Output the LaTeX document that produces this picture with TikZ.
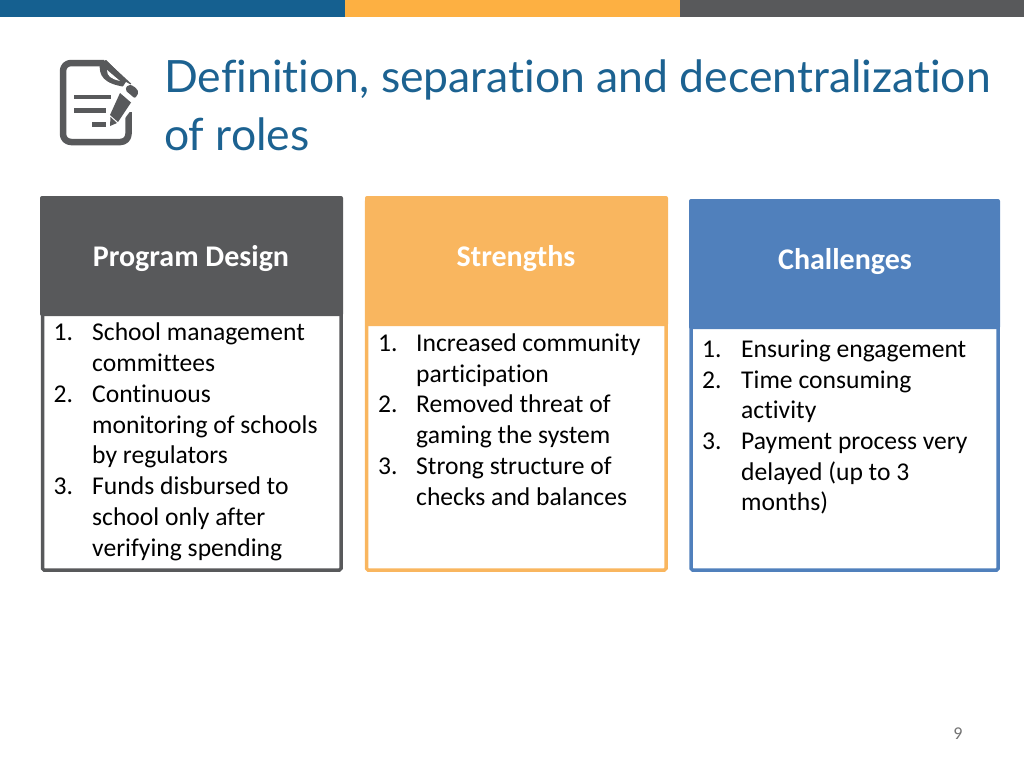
\documentclass[tikz,border=0pt]{standalone}
\usepackage{fontspec}
\setmainfont{Carlito}[Ligatures=NoCommon]
\newfontfamily\titlefont{Lato}[Ligatures=NoCommon]
\definecolor{barblue}{HTML}{156090}
\definecolor{barorange}{HTML}{FDB042}
\definecolor{bargrey}{HTML}{58595B}
\definecolor{cardgrey}{HTML}{58595B}
\definecolor{cardorange}{HTML}{F9B65F}
\definecolor{cardblue}{HTML}{5080BC}
\definecolor{titleblue}{HTML}{1C6291}
\definecolor{icongrey}{HTML}{58595B}
\tikzset{
  bar/.style={fill=#1,draw=none},
  cardbox/.style={draw=#1,line width=3.5pt,fill=white,rounded corners=1.5pt},
  headbox/.style={fill=#1,draw=none,rounded corners=2pt},
  headtext/.style={text=white,font=\fontsize{30}{30}\selectfont\bfseries,anchor=base,yshift=-0.6pt},
  bodytext/.style={text=black,font=\fontsize{25.6}{25.6}\selectfont,anchor=base west,inner sep=0pt,yshift=-0.7pt},
  titletext/.style={text=titleblue,font=\titlefont\fontsize{44.5}{44.5}\selectfont,anchor=base west,inner sep=0pt},
  pagetext/.style={text=black!55,font=\fontsize{18}{18}\selectfont,anchor=base},
  iconline/.style={draw=icongrey,line width=#1,line cap=butt}
}
\begin{document}
\begin{tikzpicture}[x=1pt,y=-1pt]
\useasboundingbox (0,0) rectangle (1024,768);
\fill[bar=barblue] (0,0) rectangle (345,17);
\fill[bar=barorange] (345,0) rectangle (680,17);
\fill[bar=bargrey] (680,0) rectangle (1024,17);
% icon
\draw[icongrey,line width=6.5pt,line join=round,rounded corners=8pt] (104,63) -- (63,63) -- (63,142) -- (128.5,142) -- (128.5,112);
\draw[icongrey,line width=6.5pt,line join=round] (104,63) -- (129,86);
\fill[icongrey] (100,62) .. controls (98,76) and (104,84) .. (126,87) -- (130,84) -- (106,60) -- cycle;
\fill[white] (107,70) .. controls (107,76) and (111,79) .. (120,81) -- cycle;
\draw[iconline=4.5pt] (74,97) -- (110.5,97);
\draw[iconline=4.5pt] (74,110.5) -- (106,110.5);
\draw[iconline=4.5pt] (92,124.5) -- (105.5,124.5);
\fill[white] (126,82) -- (143,92) -- (134,106) -- (116,130) -- (106,130) -- (106,112) -- cycle;
\fill[icongrey,rounded corners=2pt] (125,90) -- (128,84.5) -- (134,86) -- (139,92) -- (135,98.5) -- cycle;
\fill[icongrey] (120,93) -- (131,102.5) -- (118,122) -- (110,115) -- cycle;
\fill[icongrey] (110,126) -- (117,123) -- (110.5,117) -- cycle;
% title
\node[titletext] (t1) at (164,92) {Definition, separation and decentralization};
\node[titletext] (t2) at (164,150) {of roles};
% cards
\draw[cardbox=cardgrey] (42.5,200) rectangle (341,570);
\draw[cardbox=cardorange] (366.5,200) rectangle (666,570);
\draw[cardbox=cardblue] (691,203) rectangle (998,570);
\fill[headbox=cardgrey] (40,196) rectangle (343,316);
\fill[headbox=cardorange] (365,196) rectangle (668,326);
\fill[headbox=cardblue] (689,199) rectangle (1000,329);
\node[headtext] (h1) at (191,265.5) {Program Design};
\node[headtext] (h2) at (516,265.5) {Strengths};
\node[headtext] (h3) at (845,268.5) {Challenges};
% panel 1
\foreach \n/\y/\a/\b in {
 a1/340/1./School management,
 a2/370.8//committees,
 a3/401.5/2./Continuous,
 a4/432.3/{}/monitoring of schools,
 a5/463/{}/by regulators,
 a6/493.8/3./Funds disbursed to,
 a7/524.6/{}/school only after,
 a8/555.4/{}/verifying spending}{
  \node[bodytext] (\n n) at (53.5,\y) {\a};
  \node[bodytext] (\n) at (92,\y) {\b};
}
% panel 2
\foreach \n/\y/\a/\b in {
 b1/350.5/1./Increased community,
 b2/381.3/{}/participation,
 b3/412/2./Removed threat of,
 b4/442.8/{}/gaming the system,
 b5/473.5/3./Strong structure of,
 b6/504.3/{}/checks and balances}{
  \node[bodytext] (\n n) at (378,\y) {\a};
  \node[bodytext] (\n) at (416,\y) {\b};
}
% panel 3
\foreach \n/\y/\a/\b in {
 c1/356.5/1./Ensuring engagement,
 c2/387.3/2./Time consuming,
 c3/418/{}/activity,
 c4/448.8/3./Payment process very,
 c5/479.5/{}/delayed (up to 3,
 c6/509.5/{}/months)}{
  \node[bodytext] (\n n) at (702,\y) {\a};
  \node[bodytext] (\n) at (741,\y) {\b};
}
\node[pagetext] (pg) at (958,739) {9};
\end{tikzpicture}
\end{document}
